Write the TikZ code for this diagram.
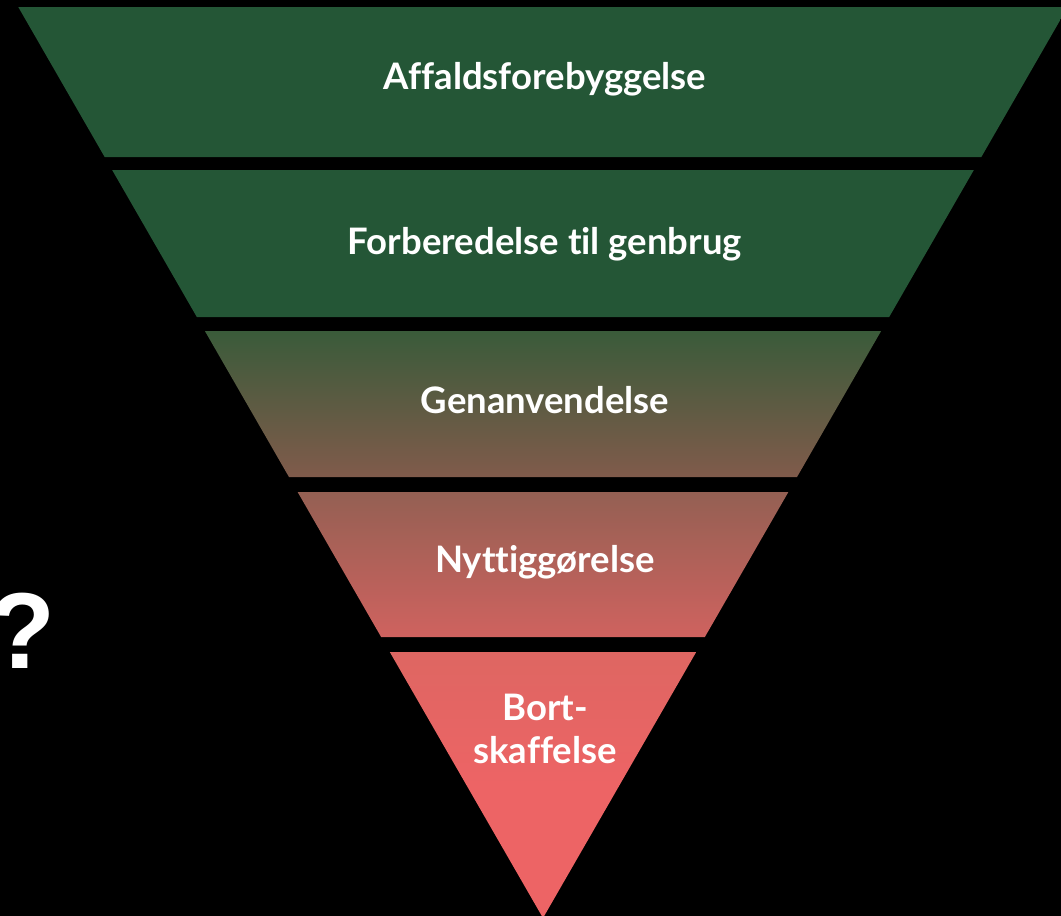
\documentclass[tikz,border=0pt]{standalone}
\usepackage{fontspec}
\setmainfont{Lato}[Ligatures=NoCommon]
\newfontfamily\qfont{Liberation Sans}

\definecolor{wgreen}{RGB}{36,86,54}
\definecolor{wolive}{RGB}{58,91,58}
\definecolor{wbrown}{RGB}{128,91,75}
\definecolor{wclay}{RGB}{148,96,83}
\definecolor{wrose}{RGB}{207,98,95}
\definecolor{wcoral}{RGB}{222,102,98}
\definecolor{wred}{RGB}{237,100,101}

\begin{document}
\begin{tikzpicture}[x=1pt, y=-1pt,
  bandtext/.style={text=white, font=\bfseries\fontsize{36.5}{43}\selectfont, align=center, anchor=base, inner sep=0pt}]
\def \xmid   {543};
\def \slope  {0.576};  % half width per unit of height
\def \yapex  {918};
\def \xtext  {545};

\fill[black] (0,0) rectangle (1061,916);
\useasboundingbox (0,0) rectangle (1061,916);

% bands of the funnel
\foreach \yt/\yb/\ct/\cb in {7/157/wgreen/wgreen, 170/317/wgreen/wgreen, 331/477/wolive/wbrown, 492/637/wclay/wrose}{
  \pgfmathsetmacro\wt{\slope*(\yapex-\yt)}
  \pgfmathsetmacro\wb{\slope*(\yapex-\yb)}
  \shade[top color=\ct, bottom color=\cb] (\xmid-\wt,\yt) -- (\xmid+\wt,\yt) -- (\xmid+\wb,\yb) -- (\xmid-\wb,\yb) -- cycle;
}
% tip
\pgfmathsetmacro\wt{\slope*(\yapex-652)}
\shade[top color=wcoral, bottom color=wred, middle color=wred] (\xmid-\wt,652) -- (\xmid+\wt,652) -- (\xmid,\yapex) -- cycle;

\node[bandtext] (prevention) at (\xtext, 89.5) {Affaldsforebyggelse};
\node[bandtext] (reuse)      at (\xtext, 254)  {Forberedelse til genbrug};
\node[bandtext] (recycling)  at (\xtext, 413)  {Genanvendelse};
\node[bandtext] (recovery)   at (\xtext, 572)  {Nyttiggørelse};
\node[bandtext] (disposal)   at (\xtext, 763)  {Bort-\\skaffelse};

\node[text=white, font=\qfont\bfseries\fontsize{108}{108}\selectfont, anchor=base, inner sep=0pt] (query) at (22, 668) {?};

\end{tikzpicture}
\end{document}
